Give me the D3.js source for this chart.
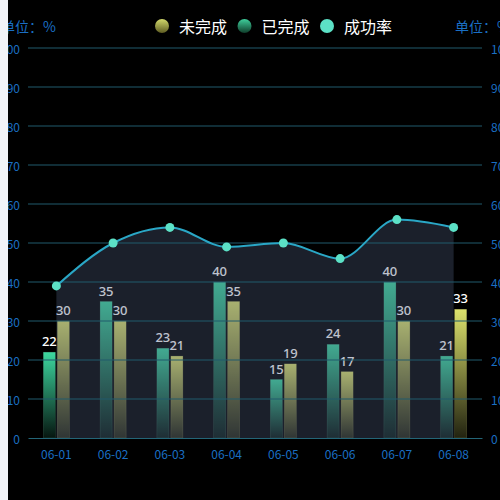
<!DOCTYPE html>
<html>
<head>
<meta charset="utf-8">
<script src="https://cdn.jsdelivr.net/npm/d3@7"></script>
<style>
  html, body { margin: 0; padding: 0; background: #000; }
  #chart { width: 500px; height: 500px; }
</style>
</head>
<body>
<div id="chart"></div>
<script>
// chart data
const days = ["06-01", "06-02", "06-03", "06-04", "06-05", "06-06", "06-07", "06-08"];
const unfinished = [30, 30, 21, 35, 19, 17, 30, 33];   // 未完成
const finished = [22, 35, 23, 40, 15, 24, 40, 21];     // 已完成
const successRate = [39, 50, 54, 49, 50, 46, 56, 54];  // 成功率
const yTicks = [0, 10, 20, 30, 40, 50, 60, 70, 80, 90, 100];
const seriesNames = ["未完成", "已完成", "成功率"];

const W = 500, H = 500;
const plot = { left: 28, right: 482, top: 48, bottom: 438 };

const svg = d3.select("#chart")
  .append("svg")
    .attr("width", W)
    .attr("height", H);

svg.append("rect").attr("width", W).attr("height", H).attr("fill", "#000");

// gradients
const defs = svg.append("defs");
function vGrad(id, stops) {
  const g = defs.append("linearGradient").attr("id", id)
    .attr("x1", 0).attr("y1", 0).attr("x2", 0).attr("y2", 1);
  stops.forEach(s => g.append("stop").attr("offset", s[0]).attr("stop-color", s[1]).attr("stop-opacity", s[2]));
}
vGrad("gYellow", [[0, "#dde26c", 1], [1, "#dde26c", 0.15]]);
vGrad("gGreen", [[0, "#3dd8a0", 1], [1, "#3dd8a0", 0.1]]);
vGrad("lgYellow", [[0, "#d2d96c", 1], [1, "#5e5c22", 1]]);
vGrad("lgGreen", [[0, "#3fcf9c", 1], [1, "#0f3d2a", 1]]);

// scales
const x = d3.scaleBand()
  .domain(days)
  .range([plot.left, plot.right]);

const y = d3.scaleLinear()
  .domain([0, 100])
  .range([plot.bottom, plot.top]);

const xc = d => x(d) + x.bandwidth() / 2;
const barW = 12, barGap = 2;

// left and right y axis labels
const axisColor = "#1a6fc4";
svg.append("g")
  .selectAll("text")
  .data(yTicks)
  .join("text")
    .attr("x", 20).attr("y", d => y(d))
    .attr("text-anchor", "end")
    .attr("dominant-baseline", "central")
    .attr("fill", axisColor)
    .attr("font-family", "Noto Sans CJK SC, sans-serif")
    .attr("font-size", 12)
    .text(d => d);

svg.append("g")
  .selectAll("text")
  .data(yTicks)
  .join("text")
    .attr("x", 491).attr("y", d => y(d))
    .attr("text-anchor", "start")
    .attr("dominant-baseline", "central")
    .attr("fill", axisColor)
    .attr("font-family", "Noto Sans CJK SC, sans-serif")
    .attr("font-size", 12)
    .text(d => d);

// bars
svg.append("g")
  .selectAll("rect")
  .data(days.map((d, i) => ({ day: d, v: finished[i] })))
  .join("rect")
    .attr("x", d => xc(d.day) - barGap / 2 - barW)
    .attr("y", d => y(d.v))
    .attr("width", barW)
    .attr("height", d => plot.bottom - y(d.v))
    .attr("fill", "url(#gGreen)")
    .attr("stroke", "rgba(120,200,170,0.25)")
    .attr("stroke-width", 0.6);

svg.append("g")
  .selectAll("rect")
  .data(days.map((d, i) => ({ day: d, v: unfinished[i] })))
  .join("rect")
    .attr("x", d => xc(d.day) + barGap / 2)
    .attr("y", d => y(d.v))
    .attr("width", barW)
    .attr("height", d => plot.bottom - y(d.v))
    .attr("fill", "url(#gYellow)")
    .attr("stroke", "rgba(200,200,120,0.3)")
    .attr("stroke-width", 0.6);

// bar labels
const labelFont = "Noto Sans, DejaVu Sans, sans-serif";
svg.append("g")
  .selectAll("text")
  .data(days.map((d, i) => ({ day: d, v: finished[i] })))
  .join("text")
    .attr("x", d => xc(d.day) - barGap / 2 - barW / 2)
    .attr("y", d => y(d.v) - 6)
    .attr("text-anchor", "middle")
    .attr("fill", "#fff")
    .attr("font-family", labelFont)
    .attr("font-size", 13)
    .attr("font-weight", 500)
    .text(d => d.v);

svg.append("g")
  .selectAll("text")
  .data(days.map((d, i) => ({ day: d, v: unfinished[i] })))
  .join("text")
    .attr("x", d => xc(d.day) + barGap / 2 + barW / 2)
    .attr("y", d => y(d.v) - 6)
    .attr("text-anchor", "middle")
    .attr("fill", "#fff")
    .attr("font-family", labelFont)
    .attr("font-size", 13)
    .attr("font-weight", 500)
    .text(d => d.v);

// success rate area + line
const rateData = days.map((d, i) => ({ day: d, v: successRate[i] }));

const area = d3.area()
  .x(d => xc(d.day))
  .y0(plot.bottom)
  .y1(d => y(d.v))
  .curve(d3.curveMonotoneX);

const line = d3.line()
  .x(d => xc(d.day))
  .y(d => y(d.v))
  .curve(d3.curveMonotoneX);

svg.append("path")
  .datum(rateData)
  .attr("d", area)
  .attr("fill", "#4b5878")
  .attr("fill-opacity", 0.36);

// grid lines (drawn over the area)
svg.append("g")
  .selectAll("line")
  .data(yTicks.slice(1))
  .join("line")
    .attr("x1", plot.left).attr("x2", plot.right)
    .attr("y1", d => y(d)).attr("y2", d => y(d))
    .attr("stroke", "#215a6c")
    .attr("stroke-width", 1);

// x axis
const xAxis = svg.append("g")
  .attr("transform", `translate(0, ${plot.bottom})`)
  .call(d3.axisBottom(x).tickSize(0).tickPadding(12));
xAxis.select(".domain").attr("stroke", "#236577");
xAxis.selectAll("text")
  .attr("fill", axisColor)
  .attr("font-family", "Noto Sans CJK SC, sans-serif")
  .attr("font-size", 12);

svg.append("path")
  .datum(rateData)
  .attr("d", line)
  .attr("fill", "none")
  .attr("stroke", "#2aa7c6")
  .attr("stroke-width", 2);

svg.append("g")
  .selectAll("circle")
  .data(rateData)
  .join("circle")
    .attr("cx", d => xc(d.day))
    .attr("cy", d => y(d.v))
    .attr("r", 4.5)
    .attr("fill", "#5ce1c6");

// legend
const legendFills = ["url(#lgYellow)", "url(#lgGreen)", "#5ce1c6"];
const legend = svg.append("g")
  .selectAll("g")
  .data(seriesNames)
  .join("g")
    .attr("transform", (d, i) => `translate(${162 + i * 82.5}, 26)`);
legend.append("circle")
  .attr("r", 7)
  .attr("fill", (d, i) => legendFills[i]);
legend.append("text")
  .attr("x", 17)
  .attr("dominant-baseline", "central")
  .attr("fill", "#fff")
  .attr("font-family", "Noto Sans CJK SC, sans-serif")
  .attr("font-size", 16)
  .text(d => d);

// unit labels
[1, 455].forEach(px => {
  svg.append("text")
    .attr("x", px).attr("y", 26)
    .attr("dominant-baseline", "central")
    .attr("fill", axisColor)
    .attr("font-family", "Noto Sans CJK SC, sans-serif")
    .attr("font-size", 14)
    .text("单位：%");
});

// light strip on the left edge
svg.append("rect")
  .attr("x", 0).attr("y", 0)
  .attr("width", 8).attr("height", H)
  .attr("fill", "#f2f4f8");
</script>
</body>
</html>
